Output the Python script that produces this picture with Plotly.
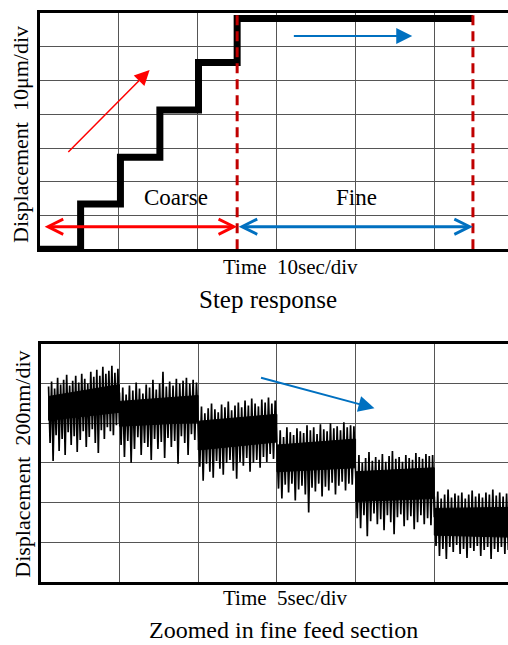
import numpy as np
import plotly.graph_objects as go

# ---------------- Data ----------------
# Top panel: step response (time in s, displacement in um)
step_time = [0.0, 5.15, 10.2, 15.2, 20.1, 25.0, 54.9]
step_disp = [0.0, 13.4, 27.3, 41.3, 55.3, 68.4, 68.4]
boundary_time = [25.0, 54.9]          # coarse / fine boundaries (red dashed)
coarse_span = [0.4, 25.0]
fine_span = [25.0, 54.9]
span_level = 6.7
labels_top = ["Coarse", "Fine"]
label_time = [17.3, 40.1]
label_level = 15.2

# Bottom panel: zoomed fine feed (time in s, displacement in nm)
seg_start = [0.5, 5.0, 10.0, 15.0, 20.0, 25.0]
seg_end = [5.0, 10.0, 15.0, 20.0, 25.0, 29.7]
# dense core of each noisy segment: [top at start, top at end, bottom at start, bottom at end]
seg_core = [
    [935, 995, 815, 855],
    [910, 940, 785, 805],
    [810, 845, 665, 705],
    [690, 720, 555, 575],
    [555, 575, 405, 420],
    [370, 375, 235, 225],
]
seg_high = [
    [985, 1010, 975, 1030, 995, 1020, 1045, 990, 1015, 1040, 1005, 1050, 1025, 1000, 1060, 1035, 1070, 1040, 1085, 1050, 1065, 1090, 1055, 1075],
    [955, 980, 945, 990, 965, 1005, 975, 950, 995, 980, 1020, 970, 1000, 1060, 985, 1010, 990, 1025, 1000, 1015, 1030, 1000, 1020, 1005],
    [860, 885, 850, 875, 900, 870, 855, 895, 880, 910, 865, 890, 905, 880, 915, 890, 925, 900, 885, 920, 905, 930, 900, 915],
    [740, 765, 730, 780, 755, 740, 775, 760, 750, 790, 765, 780, 745, 795, 770, 760, 800, 775, 785, 765, 805, 780, 790, 785],
    [615, 640, 600, 625, 655, 610, 630, 615, 645, 605, 635, 660, 620, 630, 605, 640, 625, 615, 650, 630, 620, 645, 635, 640],
    [430, 455, 420, 440, 465, 425, 445, 435, 450, 420, 440, 460, 430, 445, 425, 450, 440, 465, 435, 450, 430, 445],
]
seg_low = [
    [700, 610, 740, 660, 720, 640, 755, 690, 735, 655, 715, 760, 680, 730, 770, 700, 650, 765, 720, 780, 760, 740, 790, 800],
    [690, 630, 710, 600, 670, 730, 640, 700, 680, 615, 720, 670, 705, 625, 725, 680, 710, 595, 735, 700, 640, 745, 715, 750],
    [580, 510, 595, 555, 525, 610, 570, 540, 600, 615, 560, 520, 605, 585, 625, 555, 600, 615, 575, 630, 605, 645, 620, 655],
    [470, 420, 490, 450, 495, 410, 465, 485, 440, 350, 475, 455, 495, 430, 480, 460, 500, 440, 485, 505, 460, 495, 490, 515],
    [320, 270, 335, 230, 305, 345, 290, 315, 260, 335, 300, 240, 325, 340, 280, 310, 330, 265, 300, 335, 290, 320, 285, 325],
    [180, 130, 165, 115, 175, 150, 185, 140, 165, 120, 170, 155, 180, 130, 160, 175, 115, 165, 150, 175, 140, 160],
]

# ---------------- Build figure ----------------
W, H = 508, 645
FONT = "Liberation Serif"
GRID = "#555555"

fig = go.Figure()

# step response
fig.add_trace(go.Scatter(x=step_time, y=step_disp, mode="lines", line=dict(color="black", width=7, shape="hv"),
                         xaxis="x", yaxis="y", hoverinfo="skip"))
for bt in boundary_time:
    fig.add_trace(go.Scatter(x=[bt, bt], y=[0, 70], mode="lines",
                             line=dict(color="#c00000", width=3, dash="10px,6px"),
                             xaxis="x", yaxis="y", hoverinfo="skip"))

# noisy fine-feed signal: dense core + spikes
for s, e, c in zip(seg_start, seg_end, seg_core):
    fig.add_trace(go.Scatter(x=[s, e, e, s, s], y=[c[0], c[1], c[3], c[2], c[0]], mode="lines",
                             fill="toself", fillcolor="black", line=dict(color="black", width=1),
                             xaxis="x2", yaxis="y2", hoverinfo="skip"))
nx, ny = [], []
for s, e, hi, lo in zip(seg_start, seg_end, seg_high, seg_low):
    n = len(hi)
    xs = np.linspace(s, e, 2 * n)
    ys = []
    for h, l in zip(hi, lo):
        ys += [h, l]
    nx += list(xs)
    ny += ys
fig.add_trace(go.Scatter(x=nx, y=ny, mode="lines", line=dict(color="black", width=1.7),
                         xaxis="x2", yaxis="y2", hoverinfo="skip"))

x0 = 40.0 / W
ax_common = dict(showgrid=True, gridcolor=GRID, gridwidth=1, showticklabels=False, ticks="",
                 zeroline=False, showline=True, linecolor="black", linewidth=3, fixedrange=True)

fig.update_layout(
    width=W, height=H, margin=dict(l=0, r=0, t=0, b=0),
    paper_bgcolor="white", plot_bgcolor="white", showlegend=False,
    font=dict(family=FONT, color="black"),
    xaxis=dict(domain=[x0, 1], range=[0, (W - 40.0) / 7.886], dtick=10, tick0=0, mirror=True, anchor="y", **ax_common),
    yaxis=dict(domain=[1 - 249.3 / H, 1 - 13.0 / H], range=[0, 70], dtick=10, tick0=0, mirror=False, anchor="x", **ax_common),
    xaxis2=dict(domain=[40.7 / W, 1], range=[0, (W - 40.7) / 15.744], dtick=5, tick0=0, mirror=True, anchor="y2", **ax_common),
    yaxis2=dict(domain=[1 - 581.7 / H, 1 - 344.0 / H], range=[0, 1200], dtick=200, tick0=0, mirror=False, anchor="x2", **ax_common),
)

ann = []
# double arrows (coarse / fine)
ann.append(dict(x=coarse_span[1], y=span_level, ax=coarse_span[0], ay=span_level, xref="x", yref="y", axref="x", ayref="y",
                text="", showarrow=True, arrowhead=5, startarrowhead=5, arrowside="end+start",
                arrowwidth=3, arrowsize=1, startarrowsize=1, arrowcolor="#ff0000", standoff=0, startstandoff=0))
ann.append(dict(x=fine_span[1], y=span_level, ax=fine_span[0], ay=span_level, xref="x", yref="y", axref="x", ayref="y",
                text="", showarrow=True, arrowhead=5, startarrowhead=5, arrowside="end+start",
                arrowwidth=3, arrowsize=1, startarrowsize=1, arrowcolor="#0070c0", standoff=0, startstandoff=0))
# trend arrows
ann.append(dict(x=13.9, y=53.1, ax=3.4, ay=28.4, xref="x", yref="y", axref="x", ayref="y", text="",
                showarrow=True, arrowhead=2, arrowwidth=1.5, arrowsize=2, arrowcolor="#ff0000"))
ann.append(dict(x=47.2, y=63.2, ax=32.0, ay=63.2, xref="x", yref="y", axref="x", ayref="y", text="",
                showarrow=True, arrowhead=2, arrowwidth=2, arrowsize=1.6, arrowcolor="#0070c0"))
ann.append(dict(x=21.2, y=876, ax=13.9, ay=1032, xref="x2", yref="y2", axref="x2", ayref="y2", text="",
                showarrow=True, arrowhead=2, arrowwidth=2, arrowsize=1.6, arrowcolor="#0070c0"))
# in-plot labels
for t, lx in zip(labels_top, label_time):
    ann.append(dict(x=lx, y=label_level, xref="x", yref="y", text=t, showarrow=False,
                    font=dict(size=23, family=FONT, color="black"), xanchor="center", yanchor="middle"))
# axis titles and captions
nb = "\u00a0"
texts = [
    ("Displacement" + nb + nb + "10μm/div", 20.0, 135.0, 22, -90),
    ("Time" + nb + nb + "10sec/div", 290.0, 266.7, 21, 0),
    ("Step response", 268.0, 300.0, 25, 0),
    ("Displacement" + nb + nb + "200nm/div", 21.7, 464.0, 22, -90),
    ("Time" + nb + nb + "5sec/div", 285.0, 598.0, 21, 0),
    ("Zoomed in fine feed section", 283.0, 630.0, 24, 0),
]
for txt, px, py, fs, ang in texts:
    ann.append(dict(x=px / W, y=1 - py / H, xref="paper", yref="paper", text=txt, showarrow=False,
                    textangle=ang, font=dict(size=fs, family=FONT, color="black"),
                    xanchor="center", yanchor="middle"))
fig.update_layout(annotations=ann)

fig.write_html("out.html")
